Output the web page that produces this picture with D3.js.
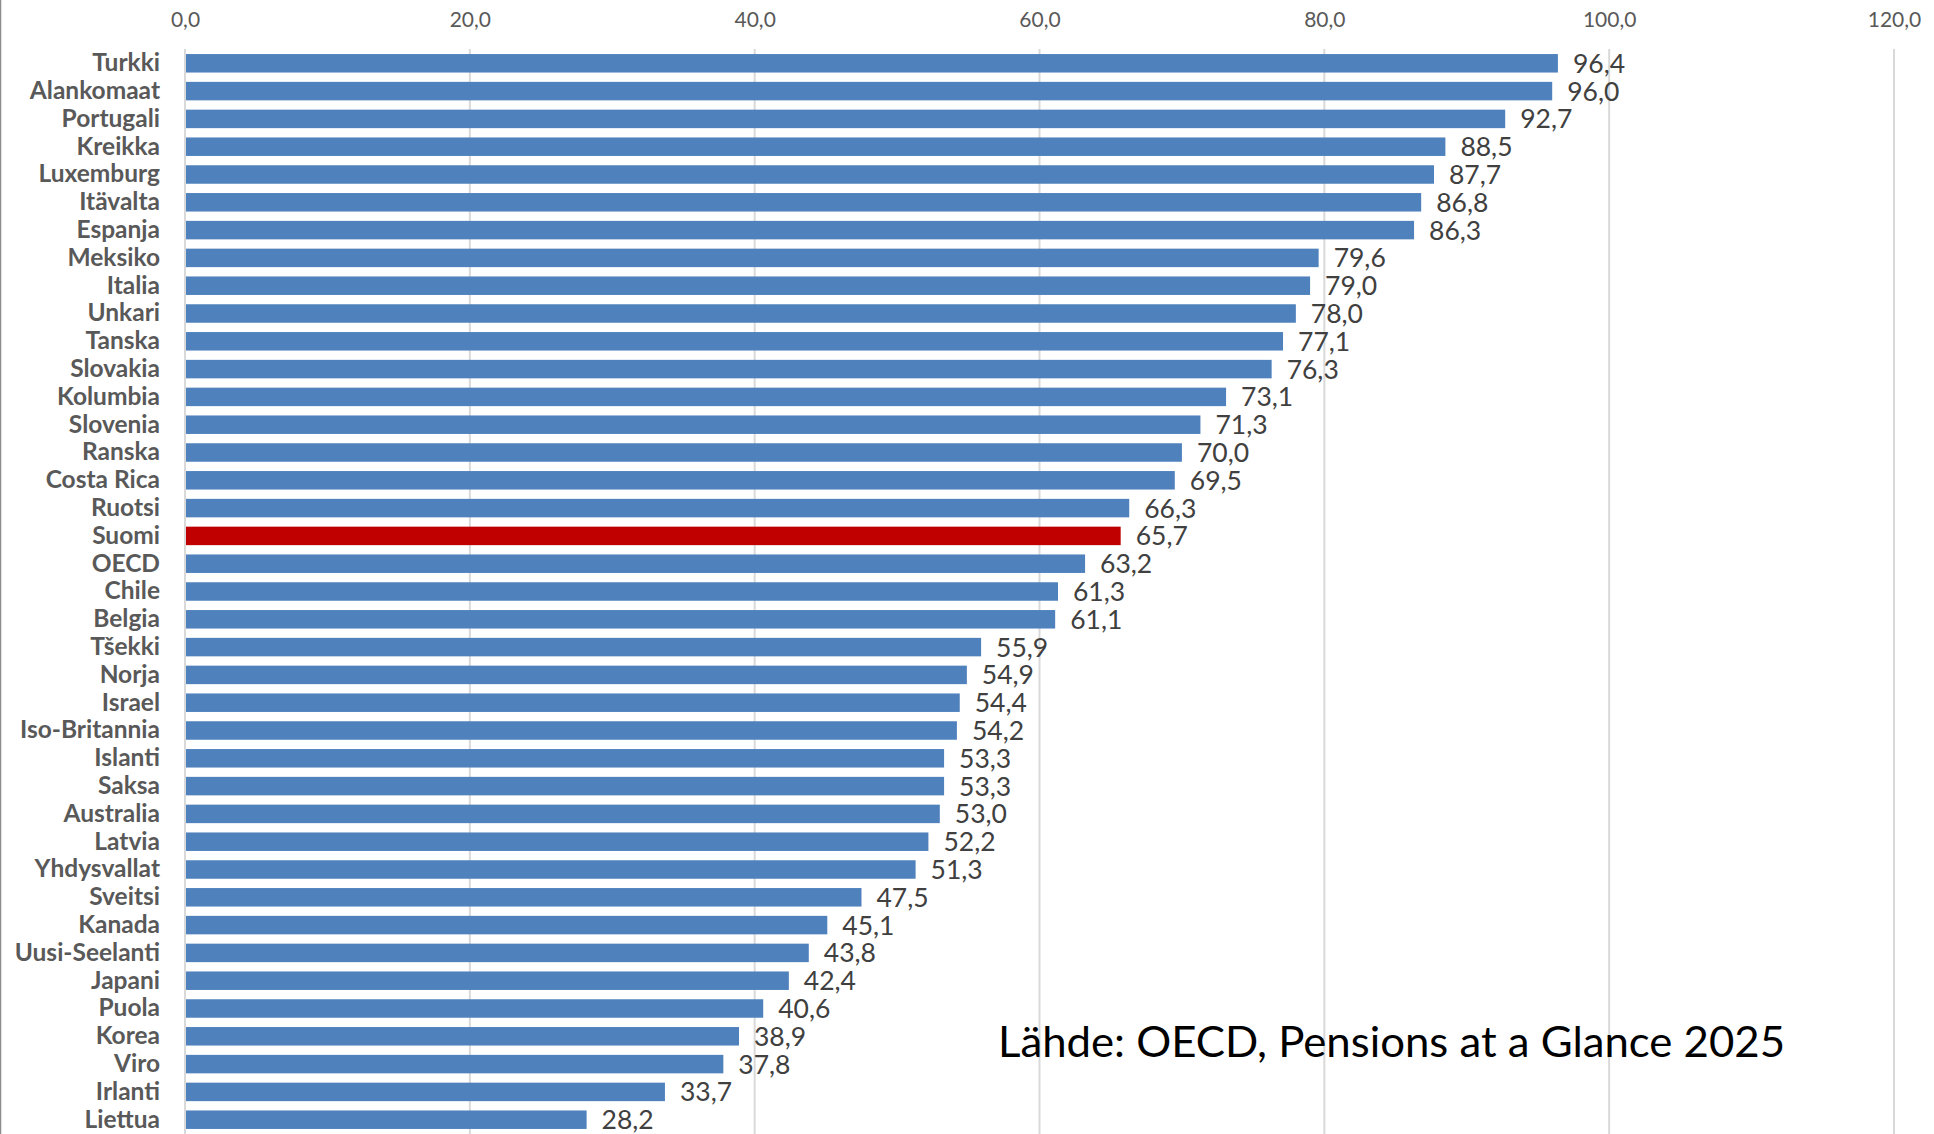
<!DOCTYPE html>
<html>
<head>
<meta charset="utf-8">
<script src="https://cdn.jsdelivr.net/npm/d3@7"></script>
<style>
  html, body { margin: 0; padding: 0; background: #fff; }
  svg { display: block; }
</style>
</head>
<body>
<div id="chart"></div>
<script>
// Countries (top to bottom) and their values
const countries = ["Turkki", "Alankomaat", "Portugali", "Kreikka", "Luxemburg", "Itävalta", "Espanja",
  "Meksiko", "Italia", "Unkari", "Tanska", "Slovakia", "Kolumbia", "Slovenia", "Ranska", "Costa Rica",
  "Ruotsi", "Suomi", "OECD", "Chile", "Belgia", "Tšekki", "Norja", "Israel", "Iso-Britannia", "Islanti",
  "Saksa", "Australia", "Latvia", "Yhdysvallat", "Sveitsi", "Kanada", "Uusi-Seelanti", "Japani", "Puola",
  "Korea", "Viro", "Irlanti", "Liettua"];
const values = [96.4, 96.0, 92.7, 88.5, 87.7, 86.8, 86.3, 79.6, 79.0, 78.0, 77.1, 76.3, 73.1, 71.3,
  70.0, 69.5, 66.3, 65.7, 63.2, 61.3, 61.1, 55.9, 54.9, 54.4, 54.2, 53.3, 53.3, 53.0, 52.2, 51.3,
  47.5, 45.1, 43.8, 42.4, 40.6, 38.9, 37.8, 33.7, 28.2];
const xTicks = [0, 20, 40, 60, 80, 100, 120];
const highlight = "Suomi";
const sourceText = "Lähde: OECD, Pensions at a Glance 2025";

const data = countries.map((c, i) => ({ country: c, value: values[i] }));

const width = 1934, height = 1134;
const svg = d3.select("#chart").append("svg")
  .attr("width", width)
  .attr("height", height);

// finnish number format: decimal comma
const fi = d3.formatLocale({ decimal: ",", thousands: " ", grouping: [3], currency: ["", " €"] });
const fmt = fi.format(".1f");

const x = d3.scaleLinear().domain([0, 120]).range([185, 1894]);
const step = 27.8;
const y = d3.scaleBand()
  .domain(countries)
  .range([49.4, 49.4 + step * countries.length])
  .paddingInner(0.335)
  .paddingOuter(0.1675);

// outer left border of the chart area
svg.append("line")
  .attr("x1", 0.5).attr("x2", 0.5)
  .attr("y1", 0).attr("y2", height)
  .attr("stroke", "#8c8c8c").attr("stroke-width", 1.5);

// vertical gridlines
svg.append("g").selectAll("line")
  .data(xTicks)
  .join("line")
  .attr("x1", d => x(d)).attr("x2", d => x(d))
  .attr("y1", 49).attr("y2", height)
  .attr("stroke", "#d9d9d9")
  .attr("stroke-width", 2);

// top axis labels
svg.append("g")
  .attr("transform", "translate(0,27)")
  .call(d3.axisTop(x).tickValues(xTicks).tickFormat(fmt).tickSize(0).tickPadding(0))
  .call(g => g.select(".domain").remove())
  .call(g => g.selectAll("text")
    .attr("font-family", "Lato, 'Open Sans', sans-serif")
    .attr("font-size", 21)
    .attr("fill", "#595959"));

// category labels
svg.append("g")
  .attr("transform", "translate(185,0)")
  .call(d3.axisLeft(y).tickSize(0).tickPadding(25))
  .call(g => g.select(".domain").remove())
  .call(g => g.selectAll("text")
    .attr("font-family", "Lato, 'Open Sans', sans-serif")
    .attr("font-weight", "bold")
    .attr("font-size", 24.5)
    .attr("fill", "#595959"));

// bars
svg.append("g").selectAll("rect")
  .data(data)
  .join("rect")
  .attr("x", x(0) + 1)
  .attr("y", d => y(d.country))
  .attr("width", d => x(d.value) - x(0) - 1)
  .attr("height", y.bandwidth())
  .attr("fill", d => d.country === highlight ? "#c00000" : "#4f81bd");

// value labels
svg.append("g").selectAll("text")
  .data(data)
  .join("text")
  .attr("x", d => x(d.value) + 15)
  .attr("y", d => y(d.country) + y.bandwidth() / 2)
  .attr("dy", "0.36em")
  .attr("font-family", "Lato, 'Open Sans', sans-serif")
  .attr("font-size", 26.5)
  .attr("fill", "#404040")
  .text(d => fmt(d.value));

// source note
svg.append("text")
  .attr("x", 998)
  .attr("y", 1057)
  .attr("font-family", "Lato, 'Open Sans', sans-serif")
  .attr("font-size", 42)
  .attr("fill", "#000")
  .attr("textLength", 787)
  .attr("lengthAdjust", "spacingAndGlyphs")
  .text(sourceText);
</script>
</body>
</html>
